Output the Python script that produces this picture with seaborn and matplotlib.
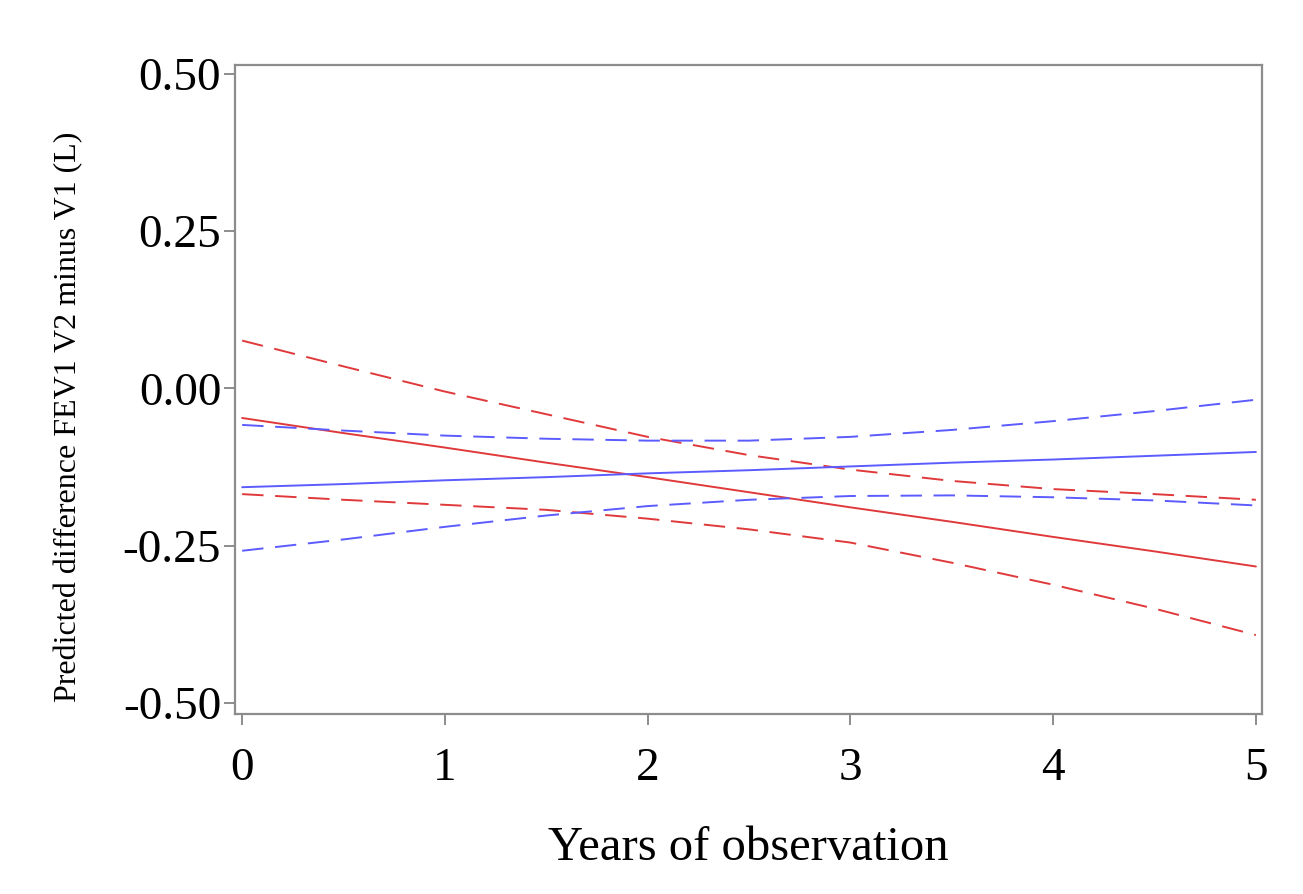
import matplotlib
matplotlib.use("Agg")
import matplotlib.pyplot as plt
import seaborn as sns
import pandas as pd

years = [0, 0.5, 1, 1.5, 2, 2.5, 3, 3.5, 4, 4.5, 5]

red_mean = [-0.047, -0.071, -0.094, -0.118, -0.141, -0.165, -0.189, -0.212, -0.236, -0.259, -0.283]
red_upper = [0.076, 0.035, -0.005, -0.041, -0.077, -0.106, -0.129, -0.147, -0.160, -0.168, -0.177]
red_lower = [-0.168, -0.177, -0.185, -0.193, -0.207, -0.224, -0.245, -0.277, -0.312, -0.350, -0.392]

blue_mean = [-0.157, -0.152, -0.146, -0.141, -0.135, -0.130, -0.124, -0.118, -0.113, -0.107, -0.101]
blue_upper = [-0.058, -0.067, -0.075, -0.080, -0.083, -0.083, -0.077, -0.066, -0.052, -0.036, -0.018]
blue_lower = [-0.258, -0.240, -0.220, -0.202, -0.187, -0.177, -0.171, -0.170, -0.173, -0.178, -0.186]

y_ticks = [-0.50, -0.25, 0.00, 0.25, 0.50]
y_tick_labels = ["-0.50", "-0.25", "0.00", "0.25", "0.50"]
x_ticks = [0, 1, 2, 3, 4, 5]
x_tick_labels = ["0", "1", "2", "3", "4", "5"]

x_label = "Years of observation"
y_label = "Predicted difference FEV1 V2 minus V1 (L)"

sns.set_theme(style="white")
plt.rcParams["font.family"] = ["Liberation Serif", "DejaVu Serif"]

fig = plt.figure(figsize=(13.03, 8.94), dpi=100)
ax = fig.add_axes([0.1804, 0.2013, 0.9685 - 0.1804, 0.9273 - 0.2013])

RED = "#e0393b"
BLUE = "#5b5bff"

dash = (0, (11, 6))
series = [
    (red_mean, RED, "-"),
    (red_upper, RED, dash),
    (red_lower, RED, dash),
    (blue_mean, BLUE, "-"),
    (blue_upper, BLUE, dash),
    (blue_lower, BLUE, dash),
]
for vals, col, ls in series:
    df = pd.DataFrame({"x": years, "y": vals})
    sns.lineplot(data=df, x="x", y="y", ax=ax, color=col, linestyle=ls, linewidth=1.4)

ax.set_xlim(-0.035, 5.03)
ax.set_ylim(-0.5175, 0.514)
ax.set_xticks(x_ticks)
ax.set_xticklabels(x_tick_labels)
ax.set_yticks(y_ticks)
ax.set_yticklabels(y_tick_labels)

for s in ax.spines.values():
    s.set_color("#8c8c8c")
    s.set_linewidth(1.6)
ax.tick_params(axis="both", which="both", direction="out", length=8, width=1.4,
               color="#8c8c8c", labelsize=34, labelcolor="black",
               bottom=True, left=True)
ax.tick_params(axis="x", pad=16)
ax.tick_params(axis="y", pad=2)

ax.set_xlabel(x_label, fontsize=35, labelpad=26, color="black")
ax.set_ylabel(y_label, fontsize=23, color="black")
ax.yaxis.set_label_coords(-0.148, 0.458)

fig.savefig("out.png", dpi=100, facecolor="white")
